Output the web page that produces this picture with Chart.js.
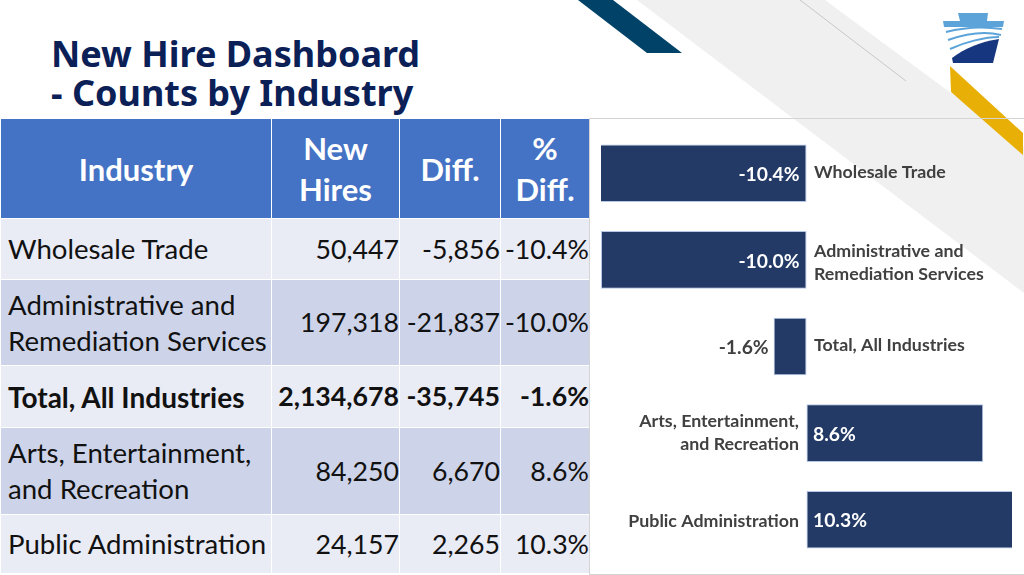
<!DOCTYPE html>
<html>
<head>
<meta charset="utf-8">
<title>New Hire Dashboard</title>
<script src="https://cdn.jsdelivr.net/npm/chart.js@4"></script>
<style>
  html, body { margin: 0; padding: 0; background: #fff; }
  #slide { position: relative; width: 1024px; height: 575px; overflow: hidden; font-family: Lato, sans-serif; }
  #decor { position: absolute; left: 0; top: 0; }
  .title { position: absolute; left: 51px; font: bold 36px "Noto Sans", sans-serif; color: #0b2056; white-space: nowrap; line-height: 40px; }
  table { position: absolute; left: 0; top: 119px; width: 589px; height: 455px; border-collapse: collapse; table-layout: fixed; color: #111; font-size: 27.6px; }
  th { background: #4472c4; color: #fff; font-size: 31px; font-weight: bold; line-height: 41px; border: 1px solid #fff; padding: 2px 0 0; border-top: 0; }
  td { border: 1px solid #fff; padding: 1px 0 0 7px; line-height: 36px; white-space: nowrap; }
  td.n { text-align: right; padding: 0; font-size: 26.7px; }
  tr.a td { background: #e9ebf5; }
  tr.b td { background: #cdd4e9; }
  tr.t td { font-weight: bold; }
  tr.t td:first-child { font-size: 28px; }
  #panel { position: absolute; left: 589px; top: 118px; width: 434px; height: 455px; border: 1px solid #d4d4d4; }
</style>
</head>
<body>
<div id="slide">
  <svg id="decor" width="1024" height="575">
    <polygon points="637,0 825,0 1024,147 1024,293" fill="#f0f0f0"/>
    <line x1="800" y1="0" x2="906" y2="81" stroke="#c8c8c8" stroke-width="1"/>
    <polygon points="578,0 613,0 682,53 647,53" fill="#004268"/>
    <polygon points="950,66 951,92 1023,155 1023,133" fill="#e8b006"/>
    <polygon points="958,13 988,13 987,21 1004,21 1003,27 944,27 943,21 960,21" fill="#5ba3d9"/>
    <path d="M953,63 L993,63 L999,39 C980,42 965,48 952,58 Z" fill="#16367f"/>
    <path d="M946,32 C965,27 985,26.5 1002,29 M948,40 C965,34 985,31 1001,35 M950,49 C965,42 985,37 999,37" fill="none" stroke="#5ba3d9" stroke-width="2"/>
  </svg>

  <div class="title" style="top:34px">New Hire Dashboard</div>
  <div class="title" style="top:73px">- Counts by Industry</div>

  <table id="tbl">
    <colgroup><col style="width:271px"><col style="width:128px"><col style="width:101px"><col style="width:89px"></colgroup>
    <thead><tr style="height:99px" id="hdr"></tr></thead>
    <tbody id="rows"></tbody>
  </table>

  <div id="panel"></div>
  <canvas id="chart" width="435" height="456" style="position:absolute;left:589px;top:118px;width:435px;height:456px"></canvas>
</div>

<script>
const headers = [['Industry'], ['New', 'Hires'], ['Diff.'], ['%', 'Diff.']]
const industries = [
  ['Wholesale Trade'],
  ['Administrative and', 'Remediation Services'],
  ['Total, All Industries'],
  ['Arts, Entertainment,', 'and Recreation'],
  ['Public Administration'],
]
const newHires = ['50,447', '197,318', '2,134,678', '84,250', '24,157']
const diffs = ['-5,856', '-21,837', '-35,745', '6,670', '2,265']
const pctDiffs = [-10.4, -10.0, -1.6, 8.6, 10.3]

const rowHeights = [61, 86, 62, 87, 59]
const rowClasses = ['a', 'b', 'a t', 'b', 'a']
// small vertical offsets of the category labels, they are not centred on the bars
const labelDy = [-1, 3, -1, 0, 2]

// table
document.getElementById('hdr').innerHTML = headers.map(h => `<th>${h.join('<br>')}</th>`).join('')
document.getElementById('rows').innerHTML = industries.map((name, i) => `
  <tr class="${rowClasses[i]}" style="height:${rowHeights[i]}px">
    <td>${name.join('<br>')}</td>
    <td class="n">${newHires[i]}</td>
    <td class="n">${diffs[i]}</td>
    <td class="n">${pctDiffs[i].toFixed(1)}%</td>
  </tr>`).join('')

// value + category labels next to each bar, no datalabels plugin available here
const barLabels = {
  id: 'barLabels',
  afterDatasetsDraw(chart) {
    const ctx = chart.ctx
    const x = chart.scales.x
    const zero = x.getPixelForValue(0)
    const meta = chart.getDatasetMeta(0)
    ctx.save()
    ctx.textBaseline = 'middle'
    meta.data.forEach((bar, i) => {
      const v = pctDiffs[i]
      const neg = v < 0
      const inside = Math.abs(v) > 5
      const txt = v.toFixed(1) + '%'
      ctx.font = 'bold 19.3px Lato'
      ctx.fillStyle = inside ? '#ffffff' : '#404040'
      ctx.textAlign = neg ? 'right' : 'left'
      const vx = neg ? (inside ? zero - 7 : bar.x - 5) : zero + 6.5
      ctx.fillText(txt, vx, bar.y + 1.5)

      ctx.font = 'bold 17.8px Lato'
      ctx.fillStyle = '#404040'
      ctx.textAlign = neg ? 'left' : 'right'
      const lx = neg ? zero + 7.5 : zero - 7.5
      const lines = industries[i]
      lines.forEach((line, k) => {
        ctx.fillText(line, lx, bar.y + labelDy[i] + (k - (lines.length - 1) / 2) * 23)
      })
    })
    ctx.restore()
  },
}

new Chart(document.getElementById('chart'), {
  type: 'bar',
  data: {
    labels: industries.map(n => n.join(' ')),
    datasets: [{
      data: pctDiffs,
      backgroundColor: '#233a66',
      borderColor: '#b4c7e7',
      borderWidth: 1,
      borderSkipped: false,
      barPercentage: 0.665,
      categoryPercentage: 1,
    }],
  },
  options: {
    indexAxis: 'y',
    responsive: false,
    animation: false,
    layout: { padding: { left: 12, right: 12, top: 12, bottom: 11 } },
    plugins: { legend: { display: false }, tooltip: { enabled: false } },
    scales: {
      // axis stops at +/-10, the two longest bars are cut off there like in the original
      x: { min: -10, max: 10, display: false },
      y: { display: false },
    },
  },
  plugins: [barLabels],
})
</script>
</body>
</html>
